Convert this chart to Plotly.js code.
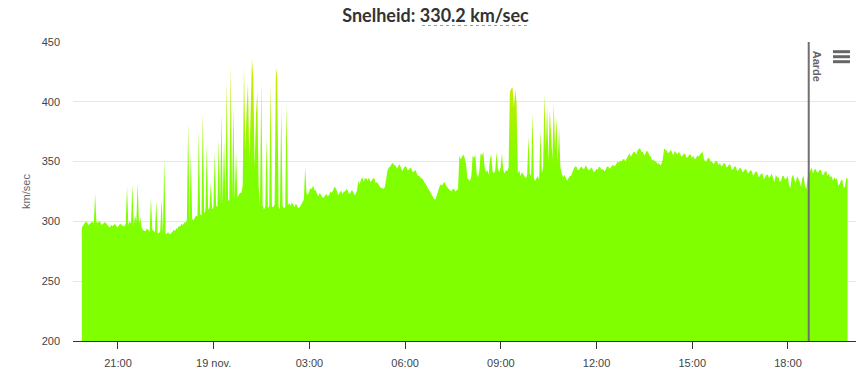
<!DOCTYPE html>
<html><head><meta charset="utf-8">
<script src="https://cdn.plot.ly/plotly-3.0.1.min.js"></script>
<style>html,body{margin:0;padding:0;background:#fff;}#chart{width:860px;height:370px;}</style>
</head><body><div id="chart"></div>
<script>
const chartTitle = 'Snelheid: 330.2 km/sec';
const yAxisTitle = 'km/sec';
const startTime = Date.UTC(2018, 10, 18, 19, 52);
const stepSeconds = 150;
// solar wind speed (km/sec), one reading per 2.5 minutes, one row per hour
const speed = [
  295,297,298,300,299,297,298,299,300,298,323,299,299,300,299,297,298,299,299,297,296,295,297,296,
  297,298,296,295,297,298,297,296,296,298,329,297,300,298,331,296,305,300,332,298,303,295,293,292,
  292,294,293,291,320,293,292,291,317,290,290,292,318,290,352,289,290,291,289,290,291,293,292,294,
  294,296,296,298,297,299,299,301,383,300,358,302,301,303,305,304,376,306,305,391,307,309,364,310,
  311,333,310,312,358,313,312,368,314,390,315,368,316,418,317,318,431,319,396,318,358,320,322,324,
  324,330,429,360,395,416,350,400,436,420,345,390,408,330,312,418,314,310,312,370,311,313,416,312,
  312,314,429,420,312,310,395,313,311,312,399,314,315,313,316,314,312,315,313,311,312,314,316,318,
  345,324,322,326,328,327,330,326,326,323,321,324,322,320,320,322,323,321,322,325,324,326,329,328,
  325,322,324,326,323,325,325,327,326,323,324,326,325,322,323,326,334,331,335,337,333,336,336,334,
  337,333,334,336,336,332,333,331,330,328,328,327,329,338,343,345,346,348,349,347,347,344,346,348,
  345,342,344,346,346,343,343,345,344,341,342,343,340,338,338,336,336,334,333,331,329,326,324,322,
  320,319,318,322,326,329,331,330,332,333,330,328,327,326,325,327,327,325,326,327,355,352,354,356,
  353,348,336,335,334,338,355,353,356,340,337,342,357,355,358,345,341,343,339,352,356,342,340,343,
  358,344,341,345,357,343,340,343,342,345,408,411,412,395,410,400,340,343,338,341,339,337,336,339,
  371,340,338,391,336,334,336,338,335,376,340,345,407,360,396,350,393,365,352,399,360,387,350,378,
  345,340,337,339,337,334,336,338,338,342,344,346,346,343,343,345,346,344,344,347,345,343,343,345,
  344,341,342,344,343,346,345,343,344,342,343,346,346,344,345,347,347,346,348,350,349,351,350,352,
  352,350,353,355,357,354,356,358,358,356,359,361,361,358,358,355,357,359,358,355,354,351,352,350,
  350,348,349,347,348,352,361,360,359,357,358,360,357,355,359,357,356,358,357,354,355,357,356,353,
  354,356,356,353,355,352,353,355,354,356,357,358,352,350,351,353,353,350,350,348,349,351,350,347,
  349,346,347,349,348,345,346,348,347,343,344,346,346,342,343,345,344,341,342,344,343,340,341,343,
  342,338,340,342,341,337,338,340,340,335,337,339,339,336,338,340,336,333,339,337,337,333,334,338,
  338,335,336,338,330,328,337,339,335,332,338,336,333,329,336,338,329,327,337,340,342,345,340,343,
  344,341,341,343,343,339,339,342,342,338,340,337,338,334,337,335,336,330,331,334,335,328,329,336,
  336
];
const tickTimes = [
  Date.UTC(2018, 10, 18, 21, 0), Date.UTC(2018, 10, 19, 0, 0), Date.UTC(2018, 10, 19, 3, 0),
  Date.UTC(2018, 10, 19, 6, 0), Date.UTC(2018, 10, 19, 9, 0), Date.UTC(2018, 10, 19, 12, 0),
  Date.UTC(2018, 10, 19, 15, 0), Date.UTC(2018, 10, 19, 18, 0)
];
const tickLabels = ['21:00', '19 nov.', '03:00', '06:00', '09:00', '12:00', '15:00', '18:00'];
const yTicks = [200, 250, 300, 350, 400, 450];
const yRange = [200, 450];
const xRange = [Date.UTC(2018, 10, 18, 19, 35, 24), Date.UTC(2018, 10, 19, 20, 7, 54)];
const earthTime = Date.UTC(2018, 10, 19, 18, 39);
const earthLabel = 'Aarde';

const times = speed.map((_, i) => startTime + i * stepSeconds * 1000);

const trace = {
  x: times, y: speed, type: 'scatter', mode: 'lines',
  line: {width: 0, color: '#7fff00'},
  fill: 'tozeroy',
  fillgradient: {
    type: 'vertical', start: 200, stop: 450,
    colorscale: [[0, '#7fff00'], [0.56, '#7fff00'], [0.64, '#8cfb00'], [0.8, '#b4f000'], [1, '#e4e600']]
  },
  hoverinfo: 'skip'
};

const hamburgerShapes = [0.9676, 0.9508, 0.9341].map(yy => ({
  type: 'line', xref: 'paper', yref: 'paper', x0: 0.9706, x1: 0.9923, y0: yy, y1: yy,
  line: {color: '#666666', width: 3}
}));

const layout = {
  width: 860, height: 370,
  margin: {l: 73, r: 4, t: 42, b: 29},
  paper_bgcolor: '#ffffff', plot_bgcolor: '#ffffff',
  showlegend: false,
  title: {
    text: '<b>' + chartTitle + '</b>',
    font: {family: 'Lato, "Open Sans", sans-serif', size: 18, color: '#333333'},
    xref: 'container', x: 0.5064, xanchor: 'center',
    yref: 'container', y: 0.958, yanchor: 'middle'
  },
  xaxis: {
    type: 'date', range: xRange,
    tickmode: 'array', tickvals: tickTimes, ticktext: tickLabels,
    ticks: 'outside', ticklen: 7, tickwidth: 1, tickcolor: '#333333',
    ticklabelstandoff: 5,
    showline: true, linecolor: '#333333', linewidth: 1,
    showgrid: false, zeroline: false,
    tickfont: {family: '"Liberation Sans", Arial, sans-serif', size: 11, color: '#444444'}
  },
  yaxis: {
    range: yRange, tickmode: 'array', tickvals: yTicks,
    showgrid: true, gridcolor: '#e6e6e6', gridwidth: 1,
    showline: false, zeroline: false, ticks: '',
    ticklabelstandoff: 12,
    tickfont: {family: '"Liberation Sans", Arial, sans-serif', size: 11, color: '#444444'},
    title: {text: yAxisTitle, standoff: 8,
      font: {family: '"Liberation Sans", Arial, sans-serif', size: 11, color: '#666666'}}
  },
  shapes: [
    {type: 'line', xref: 'x', yref: 'paper', x0: earthTime, x1: earthTime, y0: 0, y1: 1,
      line: {color: '#707070', width: 2}},
    {type: 'line', xref: 'paper', yref: 'paper', x0: 0.4457, x1: 0.583, y0: 1.0552, y1: 1.0552,
      line: {color: '#999999', width: 1, dash: 'dot'}}
  ].concat(hamburgerShapes),
  annotations: [
    {x: earthTime, xref: 'x', y: 1, yref: 'paper', text: '<b>' + earthLabel + '</b>',
      textangle: 90, showarrow: false, xanchor: 'left', yanchor: 'top', xshift: 1, yshift: -7,
      font: {family: '"Liberation Sans", Arial, sans-serif', size: 11, color: '#666666'}}
  ]
};

Plotly.newPlot('chart', [trace], layout, {displayModeBar: false, staticPlot: true});
</script>
</body></html>
